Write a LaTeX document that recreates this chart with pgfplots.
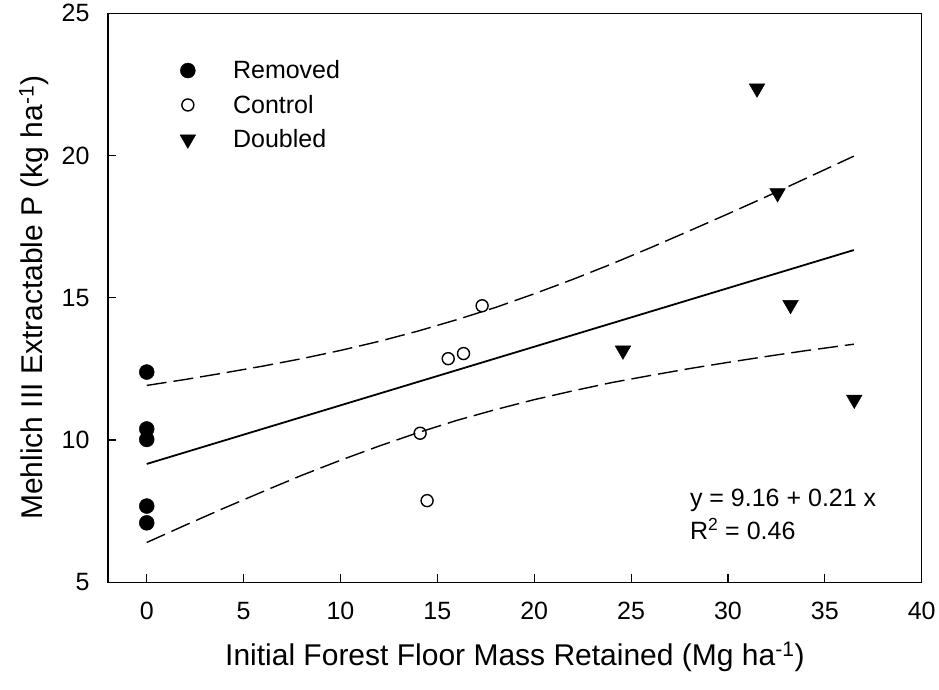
\documentclass[border=0pt]{standalone}
\usepackage{fontspec}
\setmainfont{Liberation Sans}
\usepackage{pgfplots}
\pgfplotsset{compat=1.18}

% Fitted regression line and its 95% confidence band
\pgfplotstableread{
x     fit     upper   lower
0     9.160   11.92   6.40
2     9.572   12.13   7.01
4     9.984   12.36   7.61
6     10.396  12.60   8.19
8     10.808  12.86   8.76
10    11.220  13.15   9.29
12    11.632  13.47   9.79
14    12.044  13.83   10.26
16    12.456  14.23   10.69
18    12.868  14.66   11.07
20    13.280  15.14   11.42
22    13.692  15.65   11.73
24    14.104  16.19   12.02
26    14.516  16.76   12.27
28    14.928  17.35   12.51
30    15.340  17.95   12.73
32    15.752  18.56   12.94
34    16.164  19.19   13.14
36.5  16.679  19.98   13.37
}\band

\begin{document}
\begin{tikzpicture}[x=1pt,y=1pt]
\useasboundingbox (0,0) rectangle (939,690);
\begin{axis}[
  at={(108pt,107.7pt)}, anchor=south west,
  scale only axis, width=813.7pt, height=569pt,
  xmin=-2, xmax=40, ymin=5, ymax=25,
  xtick={0,5,...,40}, ytick={5,10,...,25},
  tick align=inside, xtick pos=bottom, ytick pos=left,
  major tick length=8pt,
  axis line style={line width=1.4pt},
  tick style={line width=1.2pt, black},
  ticklabel style={font=\fontsize{25}{30}\selectfont},
  xticklabel style={yshift=-16pt},
  yticklabel style={xshift=-15pt},
  /pgf/number format/assume math mode=true,
  label style={font=\fontsize{30}{36}\selectfont},
  xlabel={Initial Forest Floor Mass Retained (Mg ha\textsuperscript{-1})},
  ylabel={Mehlich III Extractable P (kg ha\textsuperscript{-1})},
  xlabel style={at={([yshift=-83pt]axis description cs:0.5,0)}, anchor=base},
  ylabel style={at={([xshift=-74pt]axis description cs:0,0.5)}, anchor=center},
  legend cell align=left,
  legend image code/.code={%
    \path (-10pt,0pt) (43pt,0pt);
    \draw[#1] plot coordinates {(0pt,0pt)};},
  legend style={at={(axis cs:1.43,23.48)}, anchor=north west,
    draw=none, fill=none, font=\fontsize{25}{30}\selectfont,
    row sep=10.8pt},
]
% regression line and confidence limits
\addplot[forget plot, black, line width=1.8pt] table[x=x, y=fit] {\band};
\addplot[forget plot, black, line width=1.4pt, dash pattern=on 20pt off 7pt] table[x=x, y=upper] {\band};
\addplot[forget plot, black, line width=1.4pt, dash pattern=on 20pt off 7pt] table[x=x, y=lower] {\band};

% treatments
\addplot[only marks, mark=*, mark size=7.5pt, black] coordinates {
  (0,12.39) (0,10.39) (0,10.02) (0,7.68) (0,7.09)};
\addlegendentry{Removed}
\addplot[only marks, mark=o, mark size=6pt, black,
  mark options={line width=1.4pt, fill=white}] coordinates {
  (14.11,10.24) (14.47,7.87) (15.56,12.86) (16.35,13.04) (17.31,14.72)};
\addlegendentry{Control}
\addplot[only marks, mark=triangle*, mark size=9pt, black,
  mark options={rotate=180}] coordinates {
  (24.58,13.15) (31.50,22.36) (32.56,18.68) (33.23,14.75) (36.52,11.42)};
\addlegendentry{Doubled}

\node[anchor=base west, inner sep=0pt, font=\fontsize{25}{30}\selectfont]
  at (axis cs:28.03,7.68) {y = 9.16 + 0.21 x};
\node[anchor=base west, inner sep=0pt, font=\fontsize{25}{30}\selectfont]
  at (axis cs:28.03,6.52) {R\textsuperscript{2} = 0.46};
\end{axis}
\end{tikzpicture}
\end{document}
